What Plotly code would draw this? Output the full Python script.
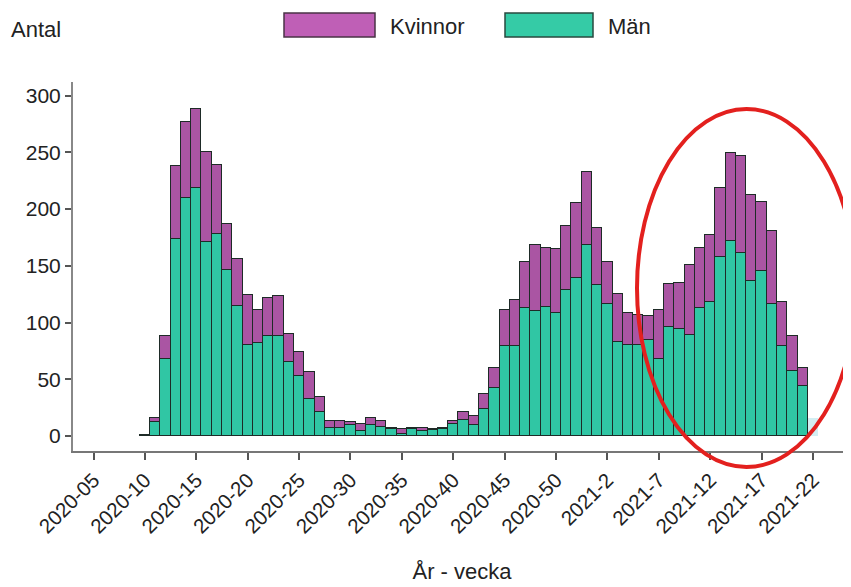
import plotly.graph_objects as go

# ---------------- data ----------------
weeks = (["2020-%02d" % w for w in range(10, 54)] +
         ["2021-%d" % w for w in range(1, 22)])

totals = [1, 16, 88, 238, 277, 288, 250, 239, 187, 156,
          124, 111, 122, 123, 90, 74, 56, 34, 13, 13,
          12, 11, 16, 13, 7, 6, 7, 7, 6, 7,
          13, 21, 18, 37, 60, 111, 120, 153, 168, 166,
          165, 185, 205, 233,
          183, 153, 125, 108, 107, 106, 111, 134, 135, 151,
          166, 177, 219, 249, 247, 212, 206, 181, 118, 88, 60]

man = [1, 12, 68, 174, 210, 219, 171, 178, 146, 115,
       80, 82, 88, 88, 65, 53, 33, 21, 7, 7,
       10, 4, 10, 8, 6, 2, 6, 4, 5, 6,
       11, 14, 10, 24, 42, 79, 79, 113, 110, 114,
       108, 129, 139, 168,
       133, 116, 83, 80, 80, 85, 68, 96, 94, 89,
       113, 118, 158, 172, 161, 137, 145, 116, 79, 57, 44]

kvinnor = [t - m for t, m in zip(totals, man)]

# faint, preliminary bar at the end
prelim_weeks = ["2021-22"]
prelim_vals = [16]

tick_labels = ["2020-05", "2020-10", "2020-15", "2020-20", "2020-25", "2020-30",
               "2020-35", "2020-40", "2020-45", "2020-50", "2021-2", "2021-7",
               "2021-12", "2021-17", "2021-22"]


def week_index(label):
    """Running week number: 2020 has 53 ISO weeks."""
    y, w = label.split("-")
    return int(w) + (53 if y == "2021" else 0)


x = [week_index(w) for w in weeks]
x_pre = [week_index(w) for w in prelim_weeks]
tick_vals = [week_index(t) for t in tick_labels]

FONT = "Liberation Sans, Arial, sans-serif"
GREEN = "#30c6a4"
PURPLE = "#aa55a3"
EDGE = "#1e2b27"

fig = go.Figure()
fig.add_trace(go.Bar(x=x, y=man, name="Män", customdata=weeks,
                     marker=dict(color=GREEN, line=dict(color=EDGE, width=1)),
                     hovertemplate="%{customdata}<br>Män: %{y}<extra></extra>",
                     showlegend=False))
fig.add_trace(go.Bar(x=x, y=kvinnor, name="Kvinnor", customdata=weeks,
                     marker=dict(color=PURPLE, line=dict(color=EDGE, width=1)),
                     hovertemplate="%{customdata}<br>Kvinnor: %{y}<extra></extra>",
                     showlegend=False))
fig.add_trace(go.Bar(x=x_pre, y=prelim_vals, name="Preliminärt",
                     marker=dict(color="#d3eef2", line=dict(width=0)),
                     showlegend=False, hoverinfo="skip"))

# the page adds an 8 px body margin, so the figure is 8 px smaller and
# the plot area (reference px 73..851 x 82..451) is shifted accordingly
OFF = 8
fig.update_layout(
    width=851 - OFF, height=587 - OFF,
    margin=dict(l=73 - OFF, r=0, t=82 - OFF, b=587 - 451),
    paper_bgcolor="white", plot_bgcolor="white",
    barmode="stack", bargap=0,
    font=dict(family=FONT, size=21, color="#222222"),
    showlegend=False,
)

fig.update_xaxes(
    range=[3.0, 78.7], tickmode="array", tickvals=tick_vals, ticktext=tick_labels,
    tickangle=-45, ticks="outside", ticklen=7, tickwidth=1.5, tickcolor="#555555",
    showline=True, linecolor="#777777", linewidth=2, showgrid=False, zeroline=False,
    tickfont=dict(size=20.5, color="#222222"),
    title=dict(text="År - vecka", font=dict(size=22, color="#222222"), standoff=27),
)
fig.update_yaxes(
    range=[-13.2, 312], tickmode="array", tickvals=[0, 50, 100, 150, 200, 250, 300],
    ticks="outside", ticklen=6, tickwidth=1.5, tickcolor="#555555",
    showline=True, linecolor="#888888", linewidth=2, showgrid=False, zeroline=False,
    tickfont=dict(size=21, color="#222222"),
)

PW, PH = 778.0, 369.0


def px(xp):
    return (xp - 73) / PW


def py(yp):
    return (451 - yp) / PH


shapes = [
    # custom legend swatches
    dict(type="rect", xref="paper", yref="paper", x0=px(284), x1=px(375), y0=py(37), y1=py(13),
         fillcolor="#bf5fb6", line=dict(color="#4a3346", width=1.5)),
    dict(type="rect", xref="paper", yref="paper", x0=px(505), x1=px(593), y0=py(37), y1=py(13),
         fillcolor="#35cba6", line=dict(color="#28493f", width=1.5)),
    # red highlight ellipse
    dict(type="circle", xref="paper", yref="paper", x0=px(637), x1=px(856), y0=py(467), y1=py(109),
         line=dict(color="#e3201e", width=4), fillcolor="rgba(0,0,0,0)", layer="above"),
]
fig.update_layout(shapes=shapes)

annotations = [
    dict(text="Antal", xref="paper", yref="paper", x=px(9), y=py(30), xanchor="left", yanchor="middle",
         showarrow=False, font=dict(size=22, color="#222222")),
    dict(text="Kvinnor", xref="paper", yref="paper", x=px(388), y=py(26), xanchor="left", yanchor="middle",
         showarrow=False, font=dict(size=22, color="#222222")),
    dict(text="Män", xref="paper", yref="paper", x=px(606), y=py(26), xanchor="left", yanchor="middle",
         showarrow=False, font=dict(size=22, color="#222222")),
]
fig.update_layout(annotations=annotations)

fig.write_html("out.html")
